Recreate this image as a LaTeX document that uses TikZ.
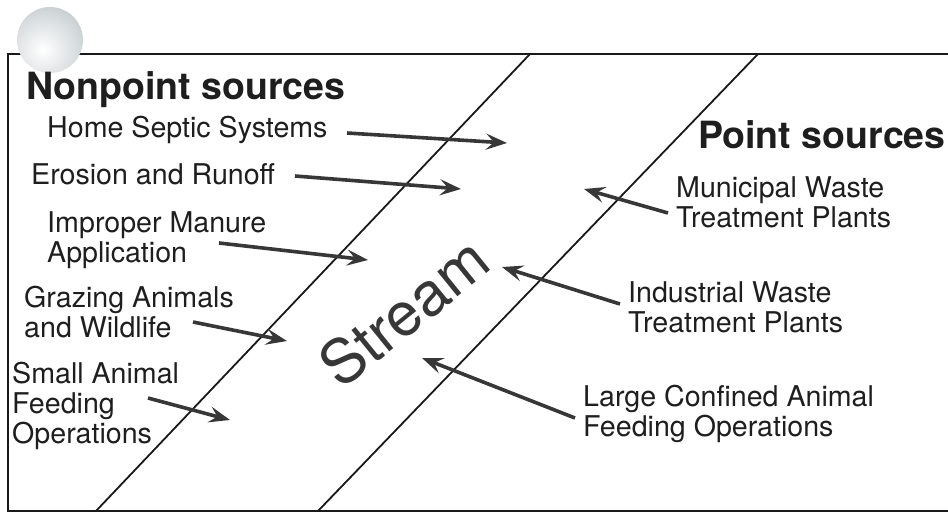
\documentclass[tikz,border=0pt]{standalone}
\usepackage{fontspec}
\setmainfont{TeX Gyre Heros}
\usetikzlibrary{arrows.meta}
\definecolor{ink}{RGB}{30,30,30}
\definecolor{arrowink}{RGB}{55,55,55}
\definecolor{ballrim}{RGB}{158,170,174}
\begin{document}
\begin{tikzpicture}[x=1pt,y=-1pt,
  frame/.style={line width=2.2pt, draw=black!90},
  bank/.style={line width=1.8pt, draw=black!90},
  flow/.style={line width=3.6pt, draw=arrowink,
    -{Stealth[length=21pt,width=16pt,inset=8pt]}},
  heading/.style={font=\fontsize{37.5}{40}\selectfont\bfseries, text=ink,
    inner sep=0pt, anchor=base west},
  % multi-line labels are placed by the baseline of their last line
  source/.style={font=\fontsize{28.6}{30}\selectfont, text=ink,
    inner sep=0pt, anchor=base west, align=left},
]
\useasboundingbox (0,0) rectangle (948,514);

% open frame, running off the right edge
\coordinate (fr-tr) at (948,54);
\coordinate (fr-tl) at (8,54);
\coordinate (fr-bl) at (8,511);
\coordinate (fr-br) at (948,511);
\draw[frame] (fr-tr) -- (fr-tl) -- (fr-bl) -- (fr-br);

% shaded ball on the top-left corner
\begin{scope}
  \clip (50,40) circle (33);
  \shade[inner color=white, outer color=ballrim] (43,50) circle (82);
\end{scope}

% the two stream banks
\coordinate (lb-top) at (530,54);
\coordinate (lb-bot) at (96,511);
\coordinate (rb-top) at (758,54);
\coordinate (rb-bot) at (318,511);
\draw[bank] (lb-top) -- (lb-bot);
\draw[bank] (rb-top) -- (rb-bot);

\node[font=\fontsize{61}{64}\selectfont, text=arrowink, rotate=39, inner sep=0pt]
  (stream) at (404,312) {Stream};

% headings
\node[heading] (nps) at (26,99) {Nonpoint sources};
\node[heading] (ps) at (698,148) {Point sources};

% nonpoint sources
\node[source] (septic) at (47,137) {Home Septic Systems};
\node[source] (erosion) at (31,184) {Erosion and Runoff};
\node[source] (manure) at (47,262) {Improper Manure\\ Application};
\node[source] (grazing) at (24,337) {Grazing Animals\\and Wildlife};
\node[source] (small) at (12,443) {Small Animal\\Feeding\\Operations};

% point sources
\node[source] (muni) at (676,227) {Municipal Waste\\Treatment Plants};
\node[source] (indus) at (628,332) {Industrial Waste\\Treatment Plants};
\node[source] (large) at (583,436) {Large Confined Animal\\Feeding Operations};

% arrow ends
\coordinate (septic-a) at (347,133);  \coordinate (septic-b) at (507,143);
\coordinate (erosion-a) at (295,176); \coordinate (erosion-b) at (461,189);
\coordinate (manure-a) at (219,243);  \coordinate (manure-b) at (368,260);
\coordinate (grazing-a) at (193,322); \coordinate (grazing-b) at (287,341);
\coordinate (small-a) at (148,398);   \coordinate (small-b) at (230,420);
\coordinate (muni-a) at (668,213);    \coordinate (muni-b) at (584,189);
\coordinate (indus-a) at (620,304);   \coordinate (indus-b) at (502,267);
\coordinate (large-a) at (575,418);   \coordinate (large-b) at (422,358);

\foreach \s in {septic,erosion,manure,grazing,small,muni,indus,large}
  \draw[flow] (\s-a) -- (\s-b);
\end{tikzpicture}
\end{document}
